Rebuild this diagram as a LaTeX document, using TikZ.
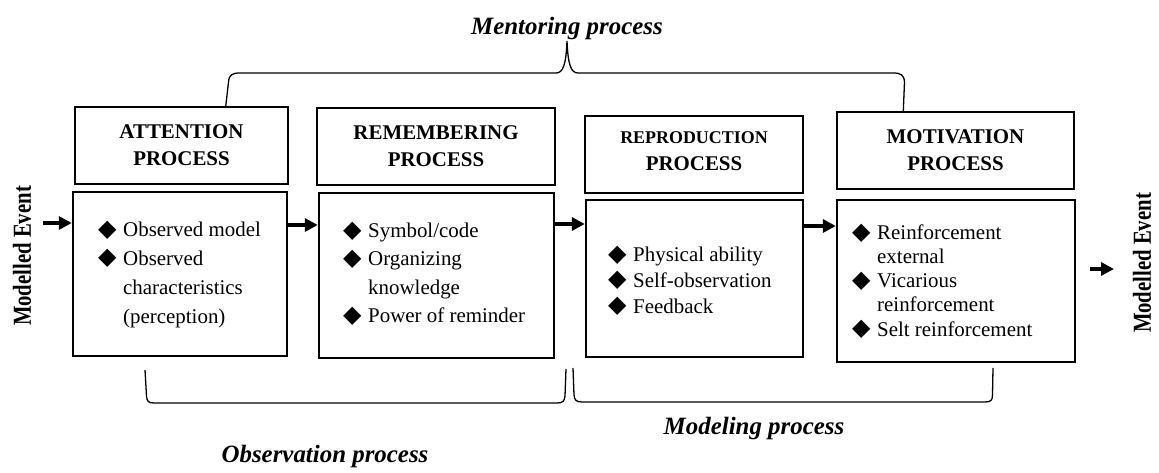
\documentclass[tikz,border=0pt]{standalone}
\usepackage{fontspec}
\setmainfont{Liberation Serif}
\newfontfamily\symfont{DejaVu Sans}
\newfontfamily\sidefont[FakeStretch=0.8]{Liberation Serif}
\usetikzlibrary{arrows.meta,calc}

% bullet with fixed-width box, and the matching hanging indent
\newcommand{\dia}{\makebox[25bp][l]{\raisebox{0.3bp}{\symfont\fontsize{24}{24}\selectfont ◆}}}
\newcommand{\hang}{\hspace*{25bp}}

\begin{document}
\begin{tikzpicture}[x=1bp,y=-1bp,
  box/.style={draw, line width=2.4bp, inner sep=0pt, align=center},
  head/.style={box, font=\bfseries\fontsize{21}{27}\selectfont},
  body/.style={box},
  list/.style={anchor=north west, inner sep=0pt, align=left},
  title/.style={font=\bfseries\itshape\fontsize{25}{25}\selectfont, inner sep=0pt},
  side/.style={font=\sidefont\bfseries\fontsize{26}{26}\selectfont, rotate=90, inner sep=0pt},
  flow/.style={line width=3.6bp, -{Triangle[length=13bp,width=13bp]}},
  brace/.style={line width=1.3bp}
]
\useasboundingbox (0,0) rectangle (1159,473);

% headings
\node[head, minimum width=213bp, minimum height=77bp] (attH) at (181.5,145.5) {ATTENTION\\PROCESS};
\node[head, minimum width=238bp, minimum height=77bp] (remH) at (436,146.5) {REMEMBERING\\PROCESS};
\node[head, minimum width=218bp, minimum height=77bp, text depth=6bp] (repH) at (694,154.5)
  {{\fontsize{18}{27}\selectfont REPRODUCTION}\\PROCESS};
\node[head, minimum width=237bp, minimum height=77bp] (motH) at (955.5,150.5) {MOTIVATION\\PROCESS};

% content boxes
\node[body, minimum width=214bp, minimum height=164bp] (attB) at (180,274) {};
\node[body, minimum width=235bp, minimum height=165bp] (remB) at (436.5,275.5) {};
\node[body, minimum width=217bp, minimum height=157bp] (repB) at (694.5,278.5) {};
\node[body, minimum width=238bp, minimum height=162bp] (motB) at (956,281) {};

% bullet lists
\node[list, font=\fontsize{21}{29}\selectfont] (attL) at (98,220.5)
  {\dia Observed model\\\dia Observed\\\hang characteristics\\\hang (perception)};
\node[list, font=\fontsize{21}{28.5}\selectfont] (remL) at (343,221.5)
  {\dia Symbol/code\\\dia Organizing\\\hang knowledge\\\dia Power of reminder};
\node[list, font=\fontsize{21}{26}\selectfont] (repL) at (608,245.5)
  {\dia Physical ability\\\dia Self-observation\\\dia Feedback};
\node[list, font=\fontsize{21}{24.3}\selectfont] (motL) at (852,223.5)
  {\dia Reinforcement\\\hang external\\\dia Vicarious\\\hang reinforcement\\\dia Selt reinforcement};

% side labels
\node[side] (inEv) at (22,256) {Modelled Event};
\node[side] (outEv) at (1142,263) {Modelled Event};

% flow arrows
\coordinate (inStart) at (43,223);
\coordinate (outStart) at (1090,269);
\coordinate (outEnd) at (1114,269);
\draw[flow] (inStart) -- (inStart -| attB.west);
\draw[flow] ($(attB.east)+(0,-49)$) -- ($(remB.west)+(0,-50.5)$);
\draw[flow] ($(remB.east)+(0,-51.5)$) -- ($(repB.west)+(0,-54.5)$);
\draw[flow] ($(repB.east)+(0,-52.5)$) -- ($(motB.west)+(0,-55)$);
\draw[flow] (outStart) -- (outEnd);

% mentoring brace over the four stages
\draw[brace] ($(attH.north west)+(152,0)$) -- (228.5,82)
  .. controls (229,75) and (232,73) .. (240,73) -- (556,73)
  .. controls (563,73) and (566,65) .. (567,41)
  .. controls (568,65) and (571,73) .. (578,73) -- (893,73)
  .. controls (901,73) and (904,75) .. (904.5,82) -- ($(motH.north west)+(67.5,0)$);
\node[title, anchor=base] (ment) at (567,35) {Mentoring process};

% observation and modeling brackets
\draw[brace] (145,370) -- (146.5,396)
  .. controls (147,401) and (148,403) .. (154,403) -- (557,403)
  .. controls (563,403) and (564.5,401) .. (565,396) -- (566,369);
\draw[brace] (573,368) -- (574,395)
  .. controls (574.5,400) and (576,402) .. (582,402) -- (985,402)
  .. controls (991,402) and (992.5,400) .. (992.5,395) -- (993,368);
\node[title, anchor=base] (obs) at (325,463) {Observation process};
\node[title, anchor=base] (mod) at (754,435) {Modeling process};
\end{tikzpicture}
\end{document}
